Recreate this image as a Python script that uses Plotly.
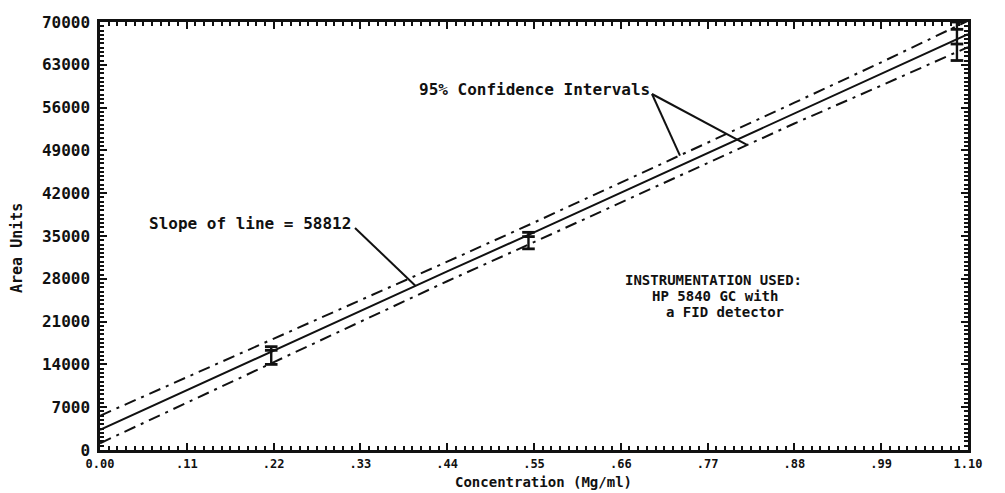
import plotly.graph_objects as go

# ---- data ----
conc_grid = [0.0, 0.11, 0.22, 0.33, 0.44, 0.55, 0.66, 0.77, 0.88, 0.99, 1.10]
fit_area = [3300, 9800, 16200, 22700, 29200, 35600, 42100, 48600, 55100, 61500, 68000]
upper_ci = [5600, 11900, 18100, 24400, 30800, 37200, 43700, 50200, 56800, 63400, 70200]
lower_ci = [1100, 7700, 14300, 21000, 27600, 34000, 40500, 47000, 53400, 59600, 65900]

rep_conc = [0.217, 0.217, 0.217, 0.543, 0.543, 0.543, 1.086, 1.086, 1.086, 1.086]
rep_area = [16900, 16300, 14000, 35600, 34900, 32900, 70000, 68800, 66400, 63700]

x_tickvals = [0.0, 0.11, 0.22, 0.33, 0.44, 0.55, 0.66, 0.77, 0.88, 0.99, 1.10]
x_ticktext = ["0.00", ".11", ".22", ".33", ".44", ".55", ".66", ".77", ".88", ".99", "1.10"]
y_tickvals = [0, 7000, 14000, 21000, 28000, 35000, 42000, 49000, 56000, 63000, 70000]
y_ticktext = ["0", "7000", "14000", "21000", "28000", "35000", "42000", "49000", "56000", "63000", "70000"]

FONT = "DejaVu Sans Mono"
INK = "#111111"

fig = go.Figure()

# confidence intervals (dash-dot)
for ci in (upper_ci, lower_ci):
    fig.add_trace(go.Scatter(x=conc_grid, y=ci, mode="lines",
                             line=dict(color=INK, width=2, dash="12px,6px,3px,6px"),
                             showlegend=False, hoverinfo="skip"))

# regression line
fig.add_trace(go.Scatter(x=conc_grid, y=fit_area, mode="lines",
                         line=dict(color=INK, width=2), showlegend=False))

# replicate stacks: vertical connector from min to max at each concentration
vx, vy = [], []
for c in sorted(set(rep_conc)):
    vals = [a for cc, a in zip(rep_conc, rep_area) if cc == c]
    vx += [c, c, None]
    vy += [min(vals), max(vals), None]
fig.add_trace(go.Scatter(x=vx, y=vy, mode="lines", line=dict(color=INK, width=2.4),
                         showlegend=False, hoverinfo="skip"))
fig.add_trace(go.Scatter(x=rep_conc, y=rep_area, mode="markers",
                         marker=dict(symbol="line-ew", size=9, line=dict(color=INK, width=2.8)),
                         showlegend=False, cliponaxis=False))

# page offset (browser body margin) and plot area geometry in page pixels
OFF = 8
L, R, T, B = 100, 968, 22, 450
W, H = R - L, B - T
FW, FH = 1005, 493

def px_x(px):
    return (px - L) / W

def px_y(py):
    return (B - py) / H

def font(size):
    return dict(family=FONT, size=size, color=INK, weight="bold")

def label(text, x, y, size=16, xanchor="left", angle=0):
    return dict(text=text, xref="paper", yref="paper", x=px_x(x), y=px_y(y),
                xanchor=xanchor, yanchor="middle", textangle=angle,
                showarrow=False, font=font(size))

annotations = [
    label("Area Units", 17, 248, size=15, xanchor="center", angle=-90),
    label("Concentration (Mg/ml)", 543, 482, size=14, xanchor="center"),
    label("Slope of line = 58812", 147, 223),
    label("95% Confidence Intervals", 652, 89, xanchor="right"),
    label("INSTRUMENTATION USED:", 623, 280, size=14),
    label("HP 5840 GC with", 650, 296, size=14),
    label("a FID detector", 664, 312, size=14),
]

# pointer lines (from text to curves)
def interp(xs, ys, x):
    for i in range(len(xs) - 1):
        if xs[i] <= x <= xs[i + 1]:
            t = (x - xs[i]) / (xs[i + 1] - xs[i])
            return ys[i] + t * (ys[i + 1] - ys[i])
    return ys[-1]

x_slope_ptr = 0.40
x_ci_up_ptr = 0.735
x_ci_lo_ptr = 0.82
pointers = [
    (355, 228, x_slope_ptr, interp(conc_grid, fit_area, x_slope_ptr)),
    (652, 94, x_ci_up_ptr, interp(conc_grid, upper_ci, x_ci_up_ptr)),
    (652, 94, x_ci_lo_ptr, interp(conc_grid, lower_ci, x_ci_lo_ptr)),
]
shapes = []
for sx, sy, x1, y1 in pointers:
    shapes.append(dict(type="line", xref="x", yref="y",
                       x0=px_x(sx) * 1.10, y0=px_y(sy) * 70000, x1=x1, y1=y1,
                       line=dict(color=INK, width=2)))

fig.update_layout(
    width=FW, height=FH,
    margin=dict(l=L - OFF, r=FW - (R - OFF), t=T - OFF, b=FH - (B - OFF), autoexpand=False),
    paper_bgcolor="white", plot_bgcolor="white",
    annotations=annotations, shapes=shapes,
    xaxis=dict(range=[0, 1.10], tickmode="array", tickvals=x_tickvals, ticktext=x_ticktext,
               ticks="inside", ticklen=7, tickwidth=2, tickcolor=INK,
               minor=dict(dtick=0.011, ticks="inside", ticklen=4, tickwidth=1.5, tickcolor=INK),
               showline=True, linecolor=INK, linewidth=2.5, mirror="allticks",
               showgrid=False, zeroline=False, ticklabelstandoff=1,
               tickfont=font(12)),
    yaxis=dict(range=[0, 70000], tickmode="array", tickvals=y_tickvals, ticktext=y_ticktext,
               ticks="inside", ticklen=7, tickwidth=2, tickcolor=INK,
               minor=dict(dtick=700, ticks="inside", ticklen=4, tickwidth=1.5, tickcolor=INK),
               showline=True, linecolor=INK, linewidth=2.5, mirror="allticks",
               showgrid=False, zeroline=False, ticklabelstandoff=4,
               tickfont=font(16)),
)

fig.write_html("out.html")
